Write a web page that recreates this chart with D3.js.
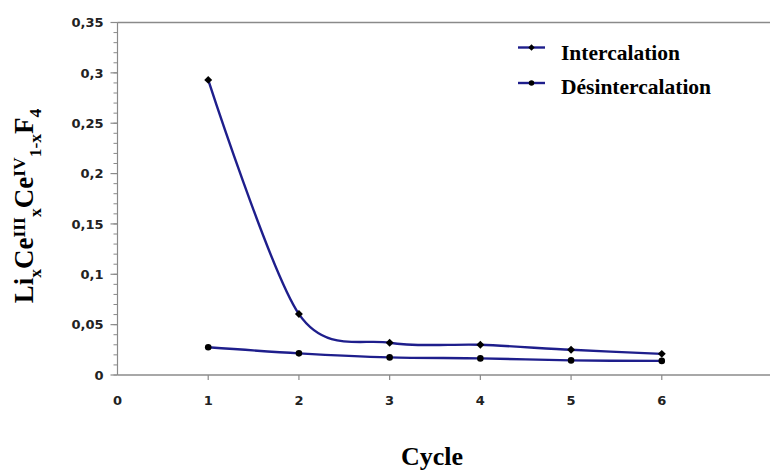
<!DOCTYPE html>
<html><head><meta charset="utf-8">
<script src="https://cdn.jsdelivr.net/npm/d3@7"></script>
<style>html,body{margin:0;padding:0;background:#fff;}svg{display:block;}</style>
</head><body>
<svg id="chart" width="770" height="471"></svg>
<script>
const cycles = [1, 2, 3, 4, 5, 6];
const intercalation = [0.293, 0.0605, 0.032, 0.030, 0.025, 0.021];
const desintercalation = [0.0275, 0.0215, 0.0175, 0.0165, 0.0145, 0.014];
const seriesNames = ["Intercalation", "Désintercalation"];
const xTickValues = [0, 1, 2, 3, 4, 5, 6];
const yTickValues = [0, 0.05, 0.1, 0.15, 0.2, 0.25, 0.3, 0.35];

const W = 770, H = 471;
const svg = d3.select("#chart");
const x = d3.scaleLinear().domain([0, 7]).range([117.5, 752.5]);
const y = d3.scaleLinear().domain([0, 0.35]).range([375, 22.5]);
const lineColor = "#1e1e8c";
const axisColor = "#8a8a8a";

// frame lines
svg.append("line").attr("x1", x(0)).attr("x2", W).attr("y1", y(0.35)).attr("y2", y(0.35))
  .attr("stroke", axisColor).attr("stroke-width", 1.5);
svg.append("line").attr("x1", x(0)).attr("x2", W).attr("y1", y(0)).attr("y2", y(0))
  .attr("stroke", "#a8a8a8").attr("stroke-width", 2);
svg.append("line").attr("x1", x(0)).attr("x2", x(0)).attr("y1", y(0.35)).attr("y2", y(0))
  .attr("stroke", axisColor).attr("stroke-width", 1.2);

// y minor ticks
const minor = d3.range(0, 0.3501, 0.01);
svg.append("g").selectAll("line").data(minor).join("line")
  .attr("x1", x(0) - 4).attr("x2", x(0)).attr("y1", d => y(d)).attr("y2", d => y(d))
  .attr("stroke", axisColor).attr("stroke-width", 1);
svg.append("g").selectAll("line").data(yTickValues).join("line")
  .attr("x1", x(0) - 7).attr("x2", x(0)).attr("y1", d => y(d)).attr("y2", d => y(d))
  .attr("stroke", axisColor).attr("stroke-width", 1.2);

const tickFont = "'DejaVu Sans', Verdana, sans-serif";
svg.append("g").selectAll("text").data(yTickValues).join("text")
  .attr("x", x(0) - 14).attr("y", d => y(d)).attr("dy", "0.36em")
  .attr("text-anchor", "end").attr("font-family", tickFont).attr("font-weight", "bold")
  .attr("font-size", 13).attr("fill", "#222")
  .text(d => d3.format(".2~f")(d).replace(".", ","));

// x ticks
svg.append("g").selectAll("line").data(xTickValues.filter(d => d > 0)).join("line")
  .attr("x1", d => x(d)).attr("x2", d => x(d)).attr("y1", y(0)).attr("y2", y(0) + 5)
  .attr("stroke", axisColor).attr("stroke-width", 1.2);
svg.append("g").selectAll("text").data(xTickValues).join("text")
  .attr("x", d => x(d)).attr("y", y(0) + 30)
  .attr("text-anchor", "middle").attr("font-family", tickFont).attr("font-weight", "bold")
  .attr("font-size", 13).attr("fill", "#222")
  .text(d => d);

// lines
const line = d3.line().x(d => x(d[0])).y(d => y(d[1])).curve(d3.curveCardinal.tension(0.1));
const dataI = cycles.map((c, i) => [c, intercalation[i]]);
const dataD = cycles.map((c, i) => [c, desintercalation[i]]);
[dataI, dataD].forEach(dat => {
  svg.append("path").datum(dat).attr("d", line).attr("fill", "none")
    .attr("stroke", lineColor).attr("stroke-width", 2.4);
});

const diamond = d3.symbol().type(d3.symbolDiamond2).size(40);
const circle = d3.symbol().type(d3.symbolCircle).size(34);
svg.append("g").selectAll("path").data(dataI).join("path")
  .attr("transform", d => `translate(${x(d[0])},${y(d[1])})`)
  .attr("d", diamond).attr("fill", "#000");
svg.append("g").selectAll("path").data(dataD).join("path")
  .attr("transform", d => `translate(${x(d[0])},${y(d[1])})`)
  .attr("d", circle).attr("fill", "#000");

// legend
const serif = "'Liberation Serif', 'Times New Roman', serif";
const leg = svg.append("g");
const legRows = [{name: seriesNames[0], sym: "d", ly: 47.5, ty: 60},
                 {name: seriesNames[1], sym: "c", ly: 83, ty: 94}];
legRows.forEach(r => {
  leg.append("line").attr("x1", 518).attr("x2", 545).attr("y1", r.ly).attr("y2", r.ly)
    .attr("stroke", lineColor).attr("stroke-width", 2.4);
  leg.append("path").attr("transform", `translate(531.5,${r.ly})`)
    .attr("d", r.sym === "d" ? d3.symbol().type(d3.symbolDiamond2).size(26)() : d3.symbol().type(d3.symbolCircle).size(24)())
    .attr("fill", "#000");
  leg.append("text").attr("x", 561).attr("y", r.ty)
    .attr("font-family", serif).attr("font-weight", "bold").attr("font-size", 21.5)
    .attr("fill", "#000").text(r.name);
});

// x title
svg.append("text").attr("x", 432).attr("y", 465).attr("text-anchor", "middle")
  .attr("font-family", serif).attr("font-weight", "bold").attr("font-size", 26)
  .attr("fill", "#000").text("Cycle");

// y title
const yt = svg.append("text").attr("transform", "translate(33,206) rotate(-90)")
  .attr("text-anchor", "middle").attr("font-family", serif).attr("font-weight", "bold")
  .attr("font-size", 27).attr("fill", "#000");
const parts = [
  ["Li", 0, 1], ["x", 8, 0.65], ["Ce", -8, 1], ["III", -8, 0.65], ["x", 16, 0.65],
  ["Ce", -8, 1], ["IV", -8, 0.65], ["1-x", 16, 0.65], ["F", -8, 1], ["4", 8, 0.65]
];
parts.forEach(p => {
  yt.append("tspan").attr("dy", p[1]).attr("font-size", 27 * p[2]).text(p[0]);
});
</script>
</body></html>
